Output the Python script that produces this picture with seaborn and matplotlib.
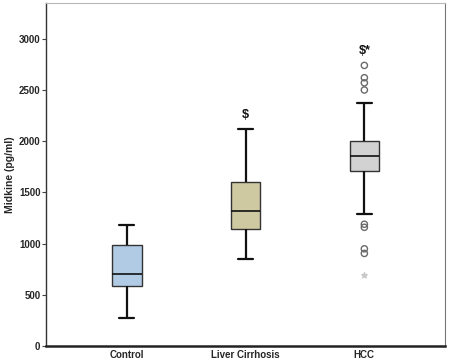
import matplotlib
matplotlib.use("Agg")
import matplotlib.pyplot as plt
import seaborn as sns
import pandas as pd

# box statistics (pg/ml)
groups = ["Control", "Liver Cirrhosis", "HCC"]
whisker_low = [270, 850, 1293]
q1 = [583, 1140, 1710]
median = [700, 1316, 1853]
q3 = [984, 1602, 2003]
whisker_high = [1179, 2124, 2374]
box_colors = ["#a9cbee", "#d6cf9a", "#d2d2d2"]

# HCC outliers
hcc_outliers = [2740, 2620, 2570, 2500, 1190, 1160, 950, 905]
hcc_extreme = [697]

# significance marks
marks = {"Liver Cirrhosis": ("$", 2200), "HCC": ("$*", 2820)}

rows = []
for i, g in enumerate(groups):
    for v in (whisker_low[i], q1[i], median[i], q3[i], whisker_high[i]):
        rows.append({"group": g, "value": v})
df = pd.DataFrame(rows)

sns.set_style("white")
plt.rcParams["font.family"] = ["Liberation Sans", "DejaVu Sans"]

fig = plt.figure(figsize=(4.51, 3.64), dpi=100)
ax = fig.add_axes([0.102, 0.049, 0.885, 0.943])

sns.boxplot(data=df, x="group", y="value", hue="group", order=groups,
            palette=box_colors, width=0.25, whis=(0, 100), ax=ax,
            linecolor="#333333", linewidth=1.0, legend=False,
            whiskerprops={"color": "#111111", "linewidth": 1.6},
            capprops={"color": "#111111", "linewidth": 1.6},
            medianprops={"color": "#111111", "linewidth": 1.2})

ax.scatter([2] * len(hcc_outliers), hcc_outliers, s=20, facecolors="none",
           edgecolors="#6a6a6a", linewidths=1.0, zorder=4)
ax.scatter([2] * len(hcc_extreme), hcc_extreme, s=16, marker="*",
           color="#c8c8c8", zorder=4)

for g, (txt, y) in marks.items():
    ax.text(groups.index(g), y, txt, ha="center", va="bottom",
            fontsize=9, fontweight="bold", color="#111111")

ax.set_xlim(-0.68, 2.68)
ax.set_ylim(0, 3350)
ax.set_yticks([0, 500, 1000, 1500, 2000, 2500, 3000])
ax.set_xlabel("")
ax.set_ylabel("Midkine (pg/ml)", fontsize=7.5, fontweight="bold", labelpad=3)
ax.tick_params(axis="y", left=True, length=3, width=0.8, labelsize=7,
               pad=1, color="#444444")
ax.tick_params(axis="x", bottom=False, length=0, labelsize=7, pad=3)
for lab in ax.get_xticklabels() + ax.get_yticklabels():
    lab.set_fontweight("bold")

ax.spines["left"].set_color("#333333")
ax.spines["left"].set_linewidth(1.0)
ax.spines["bottom"].set_color("#222222")
ax.spines["bottom"].set_linewidth(1.8)
ax.spines["top"].set_color("#b8b8b8")
ax.spines["right"].set_color("#777777")

fig.savefig("out.png", dpi=100)
